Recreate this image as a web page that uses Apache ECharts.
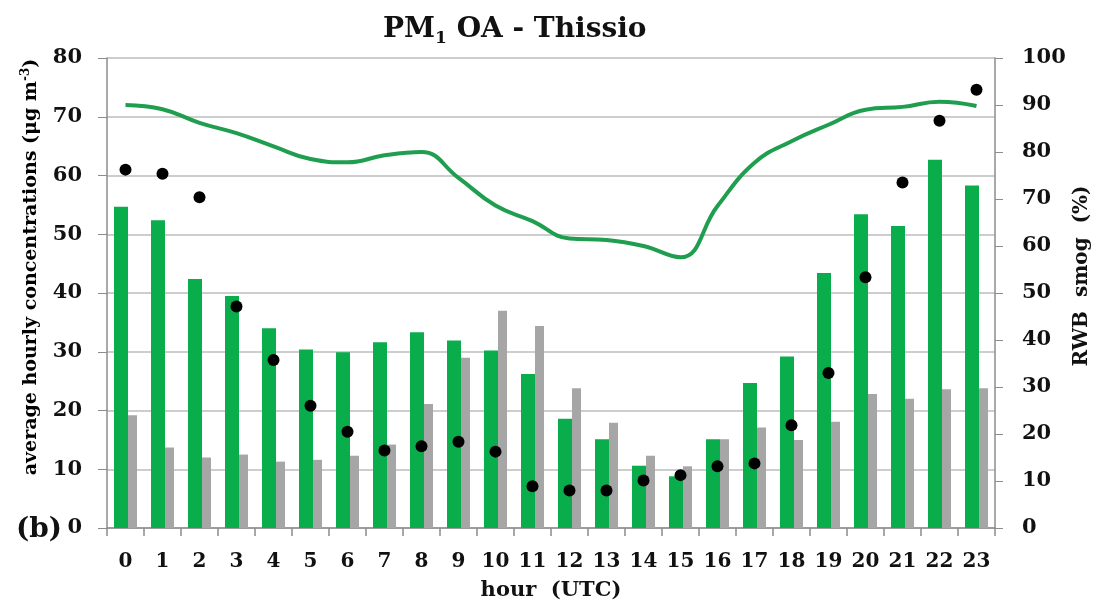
<!DOCTYPE html>
<html>
<head>
<meta charset="utf-8">
<script src="https://cdn.jsdelivr.net/npm/echarts@6/dist/echarts.min.js"></script>
<style>
  html, body { margin: 0; padding: 0; background: #fff; }
  #chart { width: 1105px; height: 606px; }
</style>
</head>
<body>
<div id="chart"></div>
<script>
var hours = ['0','1','2','3','4','5','6','7','8','9','10','11','12','13','14','15','16','17','18','19','20','21','22','23'];
// green bars, gray bars, black dots (left axis, ug m-3)
var oaGreen = [54.7,52.4,42.4,39.5,34.0,30.4,29.9,31.6,33.3,31.9,30.2,26.2,18.6,15.1,10.6,8.8,15.1,24.7,29.2,43.4,53.4,51.4,62.7,58.3];
var oaGray = [19.2,13.7,12.0,12.5,11.3,11.6,12.3,14.2,21.1,29.0,37.0,34.4,23.8,17.9,12.3,10.5,15.1,17.1,15.0,18.1,22.8,22.0,23.6,23.8];
var oaDots = [61.0,60.3,56.3,37.7,28.6,20.8,16.4,13.2,13.9,14.7,13.0,7.1,6.4,6.4,8.1,9.0,10.5,11.0,17.5,26.4,42.7,58.8,69.3,74.6];
// RWB smog line (right axis, %)
var rwbSmog = [90.0,89.1,86.2,84.0,81.2,78.5,77.8,79.3,80.0,74.5,68.6,65.3,61.6,61.3,60.0,57.6,68.5,77.7,82.3,85.8,89.0,89.6,90.7,89.8];

var font = 'DejaVu Serif';
var axisGray = '#8c8c8c';

var chart = echarts.init(document.getElementById('chart'));
var option = {
  animation: false,
  backgroundColor: '#fff',
  textStyle: { fontFamily: font },
  title: {
    text: '{a|PM}{s|1}{a| OA - Thissio}',
    left: 378,
    top: 8,
    textStyle: {
      rich: {
        a: { fontFamily: font, fontWeight: 'bold', fontSize: 28, color: '#111', lineHeight: 34 },
        s: { fontFamily: font, fontWeight: 'bold', fontSize: 17, color: '#111', lineHeight: 17, verticalAlign: 'bottom' }
      }
    }
  },
  grid: { left: 107, right: 110, top: 58, bottom: 76, containLabel: false },
  xAxis: {
    type: 'category',
    data: hours,
    name: 'hour  (UTC)',
    nameLocation: 'middle',
    nameGap: 52,
    nameTextStyle: { fontFamily: font, fontWeight: 'bold', fontSize: 21, color: '#111' },
    axisLine: { lineStyle: { color: axisGray, width: 1.5 } },
    axisTick: { show: true, length: 8, lineStyle: { color: axisGray, width: 1.5 } },
    axisLabel: { margin: 24, fontFamily: font, fontWeight: 'bold', fontSize: 20, color: '#111' }
  },
  yAxis: [
    {
      type: 'value',
      min: 0, max: 80, interval: 10,
      axisLine: { show: true, lineStyle: { color: axisGray, width: 1.5 } },
      axisTick: { show: true, length: 9, lineStyle: { color: axisGray } },
      splitLine: { lineStyle: { color: '#bdbdbd', width: 1.5 } },
      axisLabel: { margin: 25, fontFamily: font, fontWeight: 'bold', fontSize: 21, color: '#111' }
    },
    {
      type: 'value',
      min: 0, max: 100, interval: 10,
      position: 'right',
      axisLine: { show: true, lineStyle: { color: axisGray, width: 1.5 } },
      axisTick: { show: true, length: 8, lineStyle: { color: axisGray } },
      splitLine: { show: false },
      axisLabel: { margin: 27, fontFamily: font, fontWeight: 'bold', fontSize: 21, color: '#111' }
    }
  ],
  series: [
    {
      type: 'bar',
      data: oaGreen,
      yAxisIndex: 0,
      barWidth: 14,
      barGap: '0%',
      itemStyle: { color: '#0aad4c' },
      z: 2
    },
    {
      type: 'bar',
      data: oaGray,
      yAxisIndex: 0,
      barWidth: 9,
      barGap: '0%',
      itemStyle: { color: '#a6a6a6' },
      z: 2
    },
    {
      type: 'line',
      data: rwbSmog,
      yAxisIndex: 1,
      smooth: 0.45,
      showSymbol: false,
      symbol: 'none',
      lineStyle: { color: '#1f9e4f', width: 4 },
      z: 3
    },
    {
      type: 'scatter',
      data: oaDots,
      yAxisIndex: 0,
      symbolSize: 12,
      itemStyle: { color: '#000', opacity: 1 },
      z: 4
    }
  ],
  graphic: [
    {
      type: 'text',
      x: 31, y: 267,
      rotation: Math.PI / 2,
      style: {
        text: '{n|average hourly concentrations (μg m}{sup|-3}{n|)}',
        align: 'center',
        verticalAlign: 'middle',
        rich: {
          n: { fontFamily: font, fontWeight: 'bold', fontSize: 19, color: '#111', lineHeight: 22 },
          sup: { fontFamily: font, fontWeight: 'bold', fontSize: 12, color: '#111', lineHeight: 12, verticalAlign: 'top' }
        }
      }
    },
    {
      type: 'text',
      x: 1082, y: 276,
      rotation: Math.PI / 2,
      style: {
        text: 'RWB  smog  (%)',
        align: 'center',
        verticalAlign: 'middle',
        fontFamily: font, fontWeight: 'bold', fontSize: 20, fill: '#111'
      }
    },
    {
      type: 'text',
      left: 16, top: 516,
      style: {
        text: '(b)',
        fontFamily: font, fontWeight: 'bold', fontSize: 28, fill: '#111'
      }
    }
  ]
};
chart.setOption(option);
</script>
</body>
</html>
